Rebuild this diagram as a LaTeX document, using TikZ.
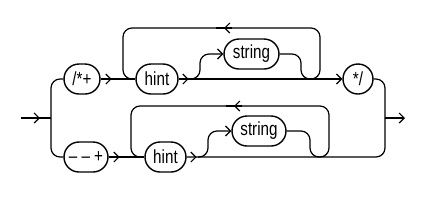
\documentclass[tikz,border=0pt]{standalone}
\usepackage{fontspec}
\setmainfont{Liberation Sans}[FakeStretch=0.8]
\usetikzlibrary{positioning, arrows.meta, shapes.misc, decorations.markings}
\tikzset{
    term/.style = {rounded rectangle, draw, line width=1.4pt, minimum height=30pt,
                   inner xsep=2pt, font=\fontsize{19}{22}\selectfont},
    rail/.style = {line width=1.2pt, rounded corners=9pt},
    tip/.style = {-{Straight Barb[length=5pt,width=10pt,line width=1.2pt]}},
    arrowat/.style = {postaction={decorate}, decoration={markings,
                      mark=at position #1 with {\arrow{Straight Barb[length=5pt,width=10pt,line width=1.2pt]}}}},
}

\begin{document}
\begin{tikzpicture}[x=1pt, y=-1pt]
        \useasboundingbox (0,0) rectangle (440,202);
        % terminals
        \node[term, minimum width=40pt] (open) at (82,79) {/*+};
        \node[term, minimum width=46pt] (hinta) at (157,79) {hint};
        \node[term, minimum width=59pt] (stra) at (251.5,54) {string};
        \node[term, minimum width=32pt] (close) at (358,79) {*/};
        \node[term, minimum width=48pt] (dash) at (86,157) {– – +};
        \node[term, minimum width=45pt] (hintb) at (165.5,157) {hint};
        \node[term, minimum width=58pt] (strb) at (259,131) {string};
        % rail points
        \coordinate (in) at (21,118);
        \coordinate (split) at (51,118);
        \coordinate (join) at (385,118);
        \coordinate (out) at (405,118);
        % entry and split
        \draw[rail, arrowat=19pt] (in) -- (split);
        \draw[rail] (split) |- (open.west);
        \draw[rail] (split) |- (dash.west);
        % upper rail
        \draw[rail, arrowat=11pt] (open.east) -- (hinta.west);
        \draw[rail, tip, arrowat=10pt] (hinta.east) -- (close.west);
        \draw[rail] (311,79) -- (320,79) -- (320,28) -- (123,28) -- (123,79) -- (133,79);
        \draw[line width=1.2pt, arrowat=0.5] (232,28) -- (216,28);
        \draw[rail, tip] (190,79) -- (200,79) -- (200,54) -- (stra.west);
        \draw[rail] (stra.east) -- (301,54) -- (301,79) -- (311,79);
        \draw[rail] (close.east) -| (join);
        % lower rail
        \draw[rail, arrowat=11pt] (dash.east) -- (hintb.west);
        \draw[rail, arrowat=10pt] (hintb.east) -| (join);
        \draw[rail] (319,157) -- (329,157) -- (329,106) -- (131,106) -- (131,157) -- (141,157);
        \draw[line width=1.2pt, arrowat=0.5] (242,106) -- (226,106);
        \draw[rail, tip] (198,157) -- (208,157) -- (208,131) -- (strb.west);
        \draw[rail] (strb.east) -- (310,131) -- (310,157) -- (319,157);
        % exit
        \draw[rail, tip] (join) -- (out);
      \end{tikzpicture}
\end{document}
